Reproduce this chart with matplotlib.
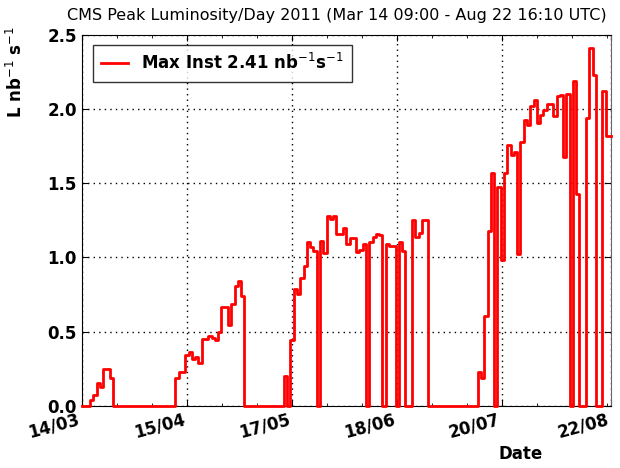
import matplotlib
matplotlib.use("Agg")
import matplotlib.pyplot as plt
import matplotlib.dates as mdates
from matplotlib.ticker import AutoMinorLocator
import numpy as np

# one value per day, starting 14/03/2011
start = np.datetime64("2011-03-14")
end = np.datetime64("2011-08-22")

lumi = [
    0, 0, 0, 0.04, 0.07, 0.155, 0.128, 0.25, 0.25, 0.19,
    0, 0, 0, 0, 0, 0, 0, 0, 0, 0,
    0, 0, 0, 0, 0, 0, 0, 0, 0, 0.19,
    0.227, 0.227, 0.343, 0.365, 0.316, 0.327, 0.287, 0.45, 0.45, 0.473,
    0.457, 0.444, 0.495, 0.664, 0.664, 0.547, 0.686, 0.81, 0.843, 0.742,
    0, 0, 0, 0, 0, 0, 0, 0, 0, 0,
    0, 0, 0.2, 0, 0.44, 0.785, 0.75, 0.86, 0.94, 1.105,
    1.07, 1.045, 0, 1.11, 1.03, 1.28, 1.26, 1.275, 1.16, 1.16,
    1.2, 1.09, 1.13, 1.13, 1.035, 1.05, 1.09, 0, 1.1, 1.14,
    1.16, 1.15, 0, 1.09, 1.075, 1.075, 0, 1.105, 1.045, 0,
    0, 1.25, 1.135, 1.165, 1.25, 1.25, 0, 0, 0, 0,
    0, 0, 0, 0, 0, 0, 0, 0, 0, 0,
    0, 0.23, 0.19, 0.605, 1.18, 1.57, 0, 1.475, 0.98, 1.565,
    1.755, 1.69, 1.71, 1.02, 1.78, 1.925, 1.89, 2.02, 2.06, 1.905,
    1.96, 1.99, 2.035, 2.035, 1.95, 2.085, 2.095, 1.675, 2.1, 0,
    2.185, 1.425, 0, 0, 1.94, 2.41, 2.225, 0, 0, 2.12,
    1.815, 1.815,
]
days = start + np.arange(len(lumi)).astype("timedelta64[D]")
days = days.astype("datetime64[ms]").astype(object)

tick_dates = ["2011-03-14", "2011-04-15", "2011-05-17", "2011-06-18", "2011-07-20", "2011-08-22"]

fig = plt.figure(figsize=(6.2, 4.68), dpi=100)
ax = fig.add_axes([0.132, 0.133, 0.853, 0.793])

ax.plot(days, lumi, color="red", lw=2, drawstyle="steps-mid",
        label=r"Max Inst 2.41 nb$^{-1}$s$^{-1}$", clip_on=False, zorder=5)

ax.set_xlim(start.astype(object), end.astype(object))
ax.set_ylim(0, 2.5)
ax.set_xticks([np.datetime64(d).astype("datetime64[ms]").astype(object) for d in tick_dates])
ax.xaxis.set_major_formatter(mdates.DateFormatter("%d/%m"))
ax.xaxis.set_minor_locator(AutoMinorLocator(3))
ax.set_yticks([0, 0.5, 1.0, 1.5, 2.0, 2.5])
ax.yaxis.set_major_formatter(plt.FormatStrFormatter("%.1f"))

ax.tick_params(which="both", direction="in", top=True, right=True)
ax.tick_params(which="major", length=4, labelsize=12)
ax.tick_params(which="minor", length=2)
for lab in ax.get_xticklabels():
    lab.set_rotation(15)
    lab.set_ha("right")
    lab.set_fontweight("bold")
for lab in ax.get_yticklabels():
    lab.set_fontweight("bold")

ax.grid(True, which="major", color="black", linestyle=(0, (1, 3)), lw=1)
ax.spines["right"].set_color("#666666")

fig.text(0.543, 0.967, "CMS Peak Luminosity/Day 2011 (Mar 14 09:00 - Aug 22 16:10 UTC)",
         fontsize=11.5, ha="center", va="center")
ax.set_ylabel(r"L nb$^{-1}$ s$^{-1}$", fontsize=12, fontweight="bold")
ax.yaxis.set_label_coords(-0.105, 0.9)
ax.set_xlabel("Date", fontsize=12, fontweight="bold")
ax.xaxis.set_label_coords(0.83, -0.105)

leg = ax.legend(loc="upper left", prop={"weight": "bold", "size": 12},
                fancybox=False, handlelength=1.6, borderpad=0.5,
                bbox_to_anchor=(0.005, 0.995))
leg.get_frame().set_edgecolor("black")
leg.get_frame().set_linewidth(1)

fig.savefig("out.png", dpi=100)
